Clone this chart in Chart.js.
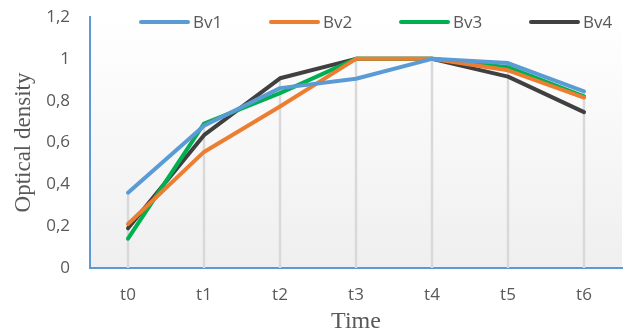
<!DOCTYPE html>
<html>
<head>
<meta charset="utf-8">
<script src="https://cdn.jsdelivr.net/npm/chart.js@4/dist/chart.umd.min.js"></script>
<style>
  html, body { margin: 0; padding: 0; background: #ffffff; }
  #wrap { width: 625px; height: 336px; }
</style>
</head>
<body>
<div id="wrap"><canvas id="c" width="625" height="336"></canvas></div>
<script>
// Optical density readings per strain over time
const categories = ['t0', 't1', 't2', 't3', 't4', 't5', 't6'];
const seriesNames = ['Bv1', 'Bv2', 'Bv3', 'Bv4'];
const bv1 = [0.36, 0.68, 0.86, 0.905, 1.0, 0.98, 0.845];
const bv2 = [0.21, 0.555, 0.772, 1.0, 1.0, 0.945, 0.815];
const bv3 = [0.14, 0.69, 0.836, 1.0, 1.0, 0.96, 0.82];
const bv4 = [0.19, 0.635, 0.907, 1.0, 1.0, 0.915, 0.745];
const yTickLabels = ['0', '0,2', '0,4', '0,6', '0,8', '1', '1,2'];

const colors = ['#5b9bd5', '#ed7d31', '#00b050', '#404040'];
const seriesValues = [bv1, bv2, bv3, bv4];
const textColor = '#595959';
const sansFont = "'Open Sans', sans-serif";
const serifFont = "'Liberation Serif', 'Times New Roman', serif";

// Soft vertical gradient behind the plotting area
const plotBackground = {
  id: 'plotBackground',
  beforeDraw(chart) {
    const { ctx, chartArea: a } = chart;
    const g = ctx.createLinearGradient(0, a.top, 0, a.bottom);
    g.addColorStop(0, '#ffffff');
    g.addColorStop(1, '#efefef');
    ctx.save();
    ctx.fillStyle = g;
    ctx.fillRect(a.left, a.top, a.right - a.left, a.bottom - a.top);
    ctx.restore();
  }
};

// Drop lines from the highest value of each category down to the axis
const dropLines = {
  id: 'dropLines',
  beforeDatasetsDraw(chart) {
    const { ctx, scales: { x, y } } = chart;
    ctx.save();
    ctx.strokeStyle = '#d9d9d9';
    ctx.lineWidth = 2.5;
    categories.forEach((c, i) => {
      const top = Math.max(...chart.data.datasets.map(d => d.data[i]));
      const px = x.getPixelForValue(i);
      ctx.beginPath();
      ctx.moveTo(px, y.getPixelForValue(top));
      ctx.lineTo(px, y.getPixelForValue(0));
      ctx.stroke();
    });
    ctx.restore();
  }
};

// Legend row laid over the top of the plot
const topLegend = {
  id: 'topLegend',
  afterDraw(chart) {
    const { ctx, chartArea: a } = chart;
    const cy = 22;
    let xPos = a.left + 51;
    ctx.save();
    ctx.font = "17px " + sansFont;
    ctx.textBaseline = 'middle';
    ctx.textAlign = 'left';
    chart.data.datasets.forEach(ds => {
      ctx.strokeStyle = ds.borderColor;
      ctx.lineWidth = 4;
      ctx.lineCap = 'round';
      ctx.beginPath();
      ctx.moveTo(xPos, cy);
      ctx.lineTo(xPos + 47, cy);
      ctx.stroke();
      ctx.fillStyle = textColor;
      ctx.fillText(ds.label, xPos + 52, cy + 1);
      xPos += 130;
    });
    ctx.restore();
  }
};

new Chart(document.getElementById('c'), {
  type: 'line',
  data: {
    labels: categories,
    datasets: seriesNames.map((name, i) => ({
      label: name,
      data: seriesValues[i],
      borderColor: colors[i],
      backgroundColor: colors[i],
      borderWidth: 4,
      pointRadius: 0,
      tension: 0,
      borderJoinStyle: 'round',
      borderCapStyle: 'round',
      fill: false
    }))
  },
  options: {
    responsive: false,
    animation: false,
    devicePixelRatio: 1,
    layout: { padding: { top: 17, right: 3, left: 0, bottom: 0 } },
    plugins: {
      legend: { display: false },
      tooltip: { enabled: false }
    },
    scales: {
      x: {
        type: 'category',
        offset: true,
        grid: { display: false, drawTicks: false, offset: false },
        border: { display: true, color: '#5b9bd5', width: 2 },
        ticks: {
          color: textColor,
          font: { family: sansFont, size: 17 },
          padding: 17,
          maxRotation: 0
        },
        title: {
          display: true,
          text: 'Time',
          color: textColor,
          font: { family: serifFont, size: 24 },
          padding: { top: 0, bottom: 0 }
        },
        afterFit(scale) {
          scale.height = 68;
          scale.paddingLeft = 0;
          scale.paddingRight = 0;
        }
      },
      y: {
        min: 0,
        max: 1.2,
        grid: { display: false, drawTicks: false },
        border: { display: true, color: '#5b9bd5', width: 2 },
        ticks: {
          stepSize: 0.2,
          color: textColor,
          font: { family: sansFont, size: 17 },
          padding: 20,
          callback: (v, i) => yTickLabels[i]
        },
        title: {
          display: true,
          text: 'Optical density',
          color: textColor,
          font: { family: serifFont, size: 23 },
          padding: { top: 10, bottom: 0 }
        },
        afterFit(scale) {
          scale.width = 90;
          scale.paddingTop = 0;
          scale.paddingBottom = 0;
        }
      }
    }
  },
  plugins: [plotBackground, dropLines, topLegend]
});
</script>
</body>
</html>
